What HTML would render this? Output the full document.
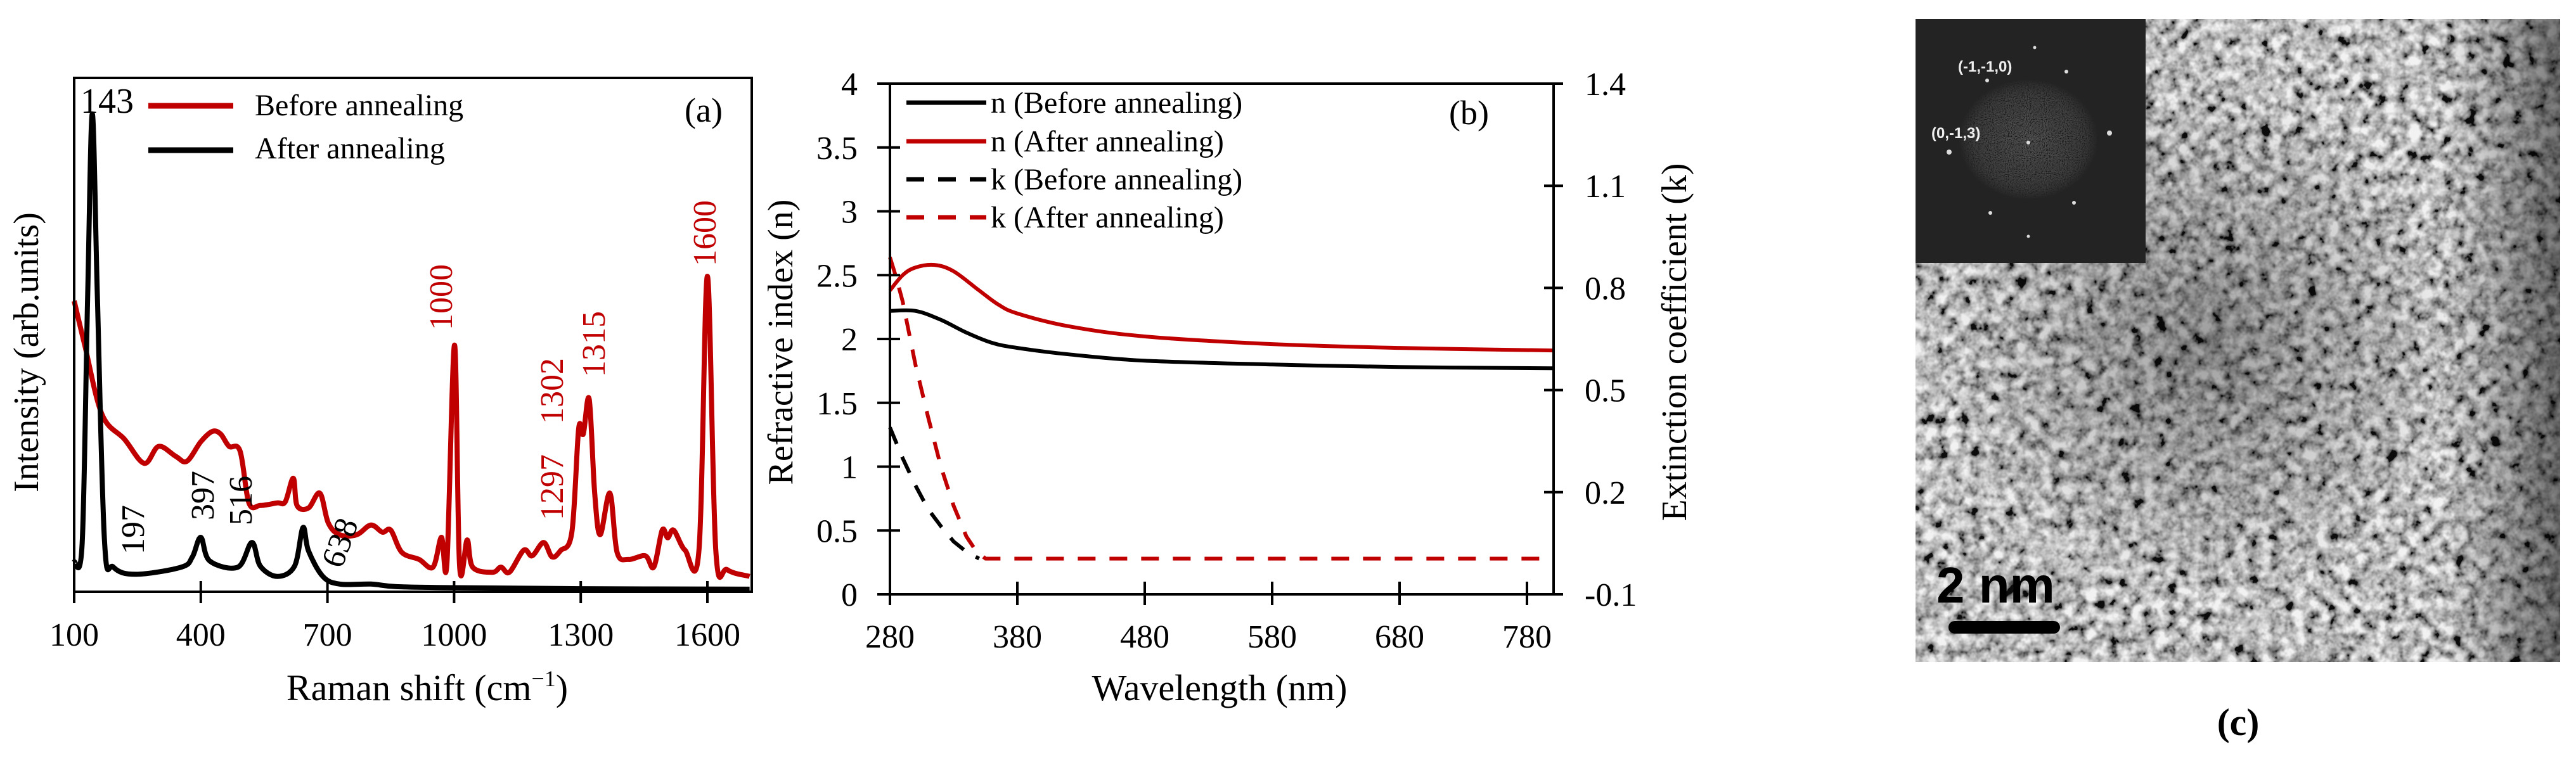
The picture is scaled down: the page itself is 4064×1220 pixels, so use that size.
<!DOCTYPE html>
<html><head><meta charset="utf-8">
<style>
html,body{margin:0;padding:0;background:#fff;}
svg{display:block;font-family:"Liberation Serif",serif;}
</style></head>
<body>
<svg id="fig" width="4064" height="1220" viewBox="0 0 4064 1220" xmlns="http://www.w3.org/2000/svg">
<defs>
  <filter id="tem" x="0" y="0" width="100%" height="100%">
    <feTurbulence type="fractalNoise" baseFrequency="0.055" numOctaves="3" seed="7" result="n"/>
    <feColorMatrix in="n" type="matrix" values="0.33 0.33 0.33 0 0  0.33 0.33 0.33 0 0  0.33 0.33 0.33 0 0  0 0 0 0 1" result="g"/>
    <feComponentTransfer in="g"><feFuncR type="linear" slope="3.6" intercept="-1.25"/><feFuncG type="linear" slope="3.6" intercept="-1.25"/><feFuncB type="linear" slope="3.6" intercept="-1.25"/></feComponentTransfer>
  </filter>
  <filter id="fft" x="0" y="0" width="100%" height="100%">
    <feTurbulence type="fractalNoise" baseFrequency="0.6" numOctaves="1" seed="3" result="n"/>
    <feColorMatrix in="n" type="matrix" values="0.33 0.33 0.33 0 0  0.33 0.33 0.33 0 0  0.33 0.33 0.33 0 0  0 0 0 0 1" result="g"/>
    <feComponentTransfer in="g"><feFuncR type="linear" slope="2.5" intercept="-1.0"/><feFuncG type="linear" slope="2.5" intercept="-1.0"/><feFuncB type="linear" slope="2.5" intercept="-1.0"/></feComponentTransfer>
  </filter>
  <radialGradient id="fftg" cx="0.5" cy="0.5" r="0.5"><stop offset="0" stop-color="#fff"/><stop offset="0.7" stop-color="#fff" stop-opacity="0.6"/><stop offset="1" stop-color="#000"/></radialGradient>
  <mask id="fftmask"><rect x="3022" y="30" width="363" height="385" fill="#000"/><ellipse cx="3200" cy="220" rx="110" ry="95" fill="url(#fftg)"/></mask>
  <radialGradient id="darkc" cx="0.45" cy="0.5" r="0.4"><stop offset="0" stop-color="#000" stop-opacity="0.35"/><stop offset="1" stop-color="#000" stop-opacity="0"/></radialGradient>
  <linearGradient id="darkr" x1="0" x2="1" y1="0" y2="0"><stop offset="0.82" stop-color="#000" stop-opacity="0"/><stop offset="1" stop-color="#000" stop-opacity="0.5"/></linearGradient>
</defs>

<!-- Panel A -->
<g id="panelA">
  <g id="aCurves"></g>
  <rect x="117" y="123" width="1069" height="811" fill="none" stroke="#000" stroke-width="4"/>
  <g id="aTicks"></g>
  <text x="674" y="1105" font-size="58" text-anchor="middle">Raman shift (cm<tspan font-size="36" dy="-22">−1</tspan><tspan dy="22">)</tspan></text>
  <text transform="translate(60,556) rotate(-90)" font-size="56" text-anchor="middle">Intensity (arb.units)</text>
  <line x1="234" y1="167" x2="368" y2="167" stroke="#c00000" stroke-width="9"/>
  <text x="402" y="182" font-size="48">Before annealing</text>
  <line x1="234" y1="237" x2="368" y2="237" stroke="#000" stroke-width="9"/>
  <text x="402" y="250" font-size="48">After annealing</text>
  <text x="1080" y="192" font-size="54">(a)</text>
  <text x="127" y="178" font-size="56">143</text>
  <g font-size="52" fill="#000">
    <text transform="translate(227,875) rotate(-90)">197</text>
    <text transform="translate(337,821) rotate(-90)">397</text>
    <text transform="translate(397,829) rotate(-90)">516</text>
    <text transform="translate(539,899) rotate(-70)">638</text>
  </g>
  <g font-size="52" fill="#c00000">
    <text transform="translate(713,521) rotate(-90)">1000</text>
    <text transform="translate(888,821) rotate(-90)">1297</text>
    <text transform="translate(888,669) rotate(-90)">1302</text>
    <text transform="translate(954,595) rotate(-90)">1315</text>
    <text transform="translate(1129,420) rotate(-90)">1600</text>
  </g>
</g>

<!-- Panel B -->
<g id="panelB">
  <g id="bCurves"></g>
  <rect x="1404" y="132" width="1047" height="806" fill="none" stroke="#000" stroke-width="4"/>
  <g id="bTicks"></g>
  <text x="1924" y="1105" font-size="58" text-anchor="middle">Wavelength (nm)</text>
  <text transform="translate(1250,540) rotate(-90)" font-size="56" text-anchor="middle">Refractive index (n)</text>
  <text transform="translate(2660,540) rotate(-90)" font-size="56" text-anchor="middle">Extinction coefficient (k)</text>
  <text x="2286" y="196" font-size="54">(b)</text>
  <g id="bLegend" font-size="48"></g>
</g>

<!-- Panel C -->
<g id="panelC">
  <rect x="3022" y="30" width="1017" height="1015" fill="#7a7a7a"/>
  <rect x="3022" y="30" width="1017" height="1015" filter="url(#tem)" opacity="0.9"/>
  <rect x="3022" y="30" width="1017" height="1015" fill="url(#darkc)"/>
  <rect x="3022" y="30" width="1017" height="1015" fill="url(#darkr)"/>
  <rect x="3022" y="30" width="363" height="385" fill="#232323"/>
  <rect x="3022" y="30" width="363" height="385" filter="url(#fft)" opacity="0.35" mask="url(#fftmask)"/>
  <g fill="#ddd">
    <circle cx="3328" cy="210" r="4"/><circle cx="3075" cy="240" r="4"/><circle cx="3260" cy="113" r="3"/>
    <circle cx="3135" cy="127" r="3"/><circle cx="3140" cy="336" r="3"/><circle cx="3272" cy="320" r="3"/>
    <circle cx="3200" cy="373" r="2.5"/><circle cx="3210" cy="75" r="2.5"/><circle cx="3200" cy="225" r="3"/>
  </g>
  <text x="3089" y="113" font-family="Liberation Sans, sans-serif" font-size="24" font-weight="bold" fill="#eee">(-1,-1,0)</text>
  <text x="3047" y="218" font-family="Liberation Sans, sans-serif" font-size="24" font-weight="bold" fill="#eee">(0,-1,3)</text>
  <text x="3055" y="951" font-family="Liberation Sans, sans-serif" font-size="80" font-weight="bold" fill="#000">2 nm</text>
  <line x1="3084" y1="990" x2="3240" y2="990" stroke="#000" stroke-width="20" stroke-linecap="round"/>
  <text x="3531" y="1160" font-size="60" font-weight="bold" text-anchor="middle">(c)</text>
</g>
</svg>
<script>
// ---------- Panel A data ----------
const ramanBeforeX = [100,125,166,219,266,300,340,367,400,427,447,467,493,514,541,581,600,619,628,655,682,702,729,769,803,830,850,876,917,950,970,983,1001,1013,1031,1044,1091,1111,1131,1165,1185,1212,1232,1252,1279,1295,1306,1320,1333,1346,1369,1386,1413,1453,1473,1493,1506,1520,1547,1580,1600,1620,1647,1700];
const ramanBeforeY = [0.566,0.48,0.345,0.297,0.25,0.283,0.264,0.254,0.292,0.312,0.307,0.283,0.274,0.173,0.168,0.173,0.175,0.221,0.168,0.163,0.192,0.134,0.111,0.111,0.13,0.116,0.12,0.077,0.063,0.048,0.106,0.056,0.48,0.05,0.101,0.048,0.038,0.048,0.038,0.081,0.07,0.096,0.068,0.08,0.116,0.317,0.307,0.375,0.192,0.111,0.192,0.077,0.063,0.07,0.048,0.12,0.105,0.12,0.081,0.081,0.614,0.08,0.043,0.03];
const ramanAfterX = [100,119,132,143,155,172,193,246,354,380,400,421,488,521,541,581,622,642,655,689,729,803,863,1000,1300,1700];
const ramanAfterY = [0.058,0.096,0.576,0.93,0.576,0.096,0.048,0.034,0.048,0.068,0.106,0.06,0.048,0.096,0.05,0.03,0.05,0.125,0.08,0.03,0.015,0.015,0.01,0.008,0.006,0.005];
const ramanTicks = [100,400,700,1000,1300,1600];

// ---------- Panel B data ----------
const wlTicks = [280,380,480,580,680,780];
const nTicks = [0,0.5,1,1.5,2,2.5,3,3.5,4];
const kTicks = [-0.1,0.2,0.5,0.8,1.1,1.4];
const nBeforeX = [280,300,320,340,360,380,420,480,580,680,800];
const nBeforeY = [2.22,2.22,2.15,2.05,1.97,1.93,1.88,1.83,1.8,1.78,1.77];
const nAfterX = [280,290,300,315,330,350,365,380,420,480,580,680,800];
const nAfterY = [2.38,2.5,2.56,2.58,2.53,2.38,2.27,2.2,2.1,2.02,1.96,1.93,1.91];
const kBeforeX = [280,290,300,310,320,330,340,350];
const kBeforeY = [0.39,0.3,0.22,0.15,0.1,0.055,0.025,0.005];
const kAfterX = [280,285,290,300,310,320,330,340,348,355,790];
const kAfterY = [0.89,0.83,0.76,0.575,0.42,0.275,0.16,0.07,0.025,0.005,0.005];

const NS = "http://www.w3.org/2000/svg";
function mk(tag, attrs, parent){const e=document.createElementNS(NS,tag);for(const k in attrs)e.setAttribute(k,attrs[k]);parent.appendChild(e);return e;}
function smooth(pts){
  let d="M"+pts[0][0].toFixed(1)+","+pts[0][1].toFixed(1);
  for(let i=0;i<pts.length-1;i++){
    const p0=pts[Math.max(0,i-1)],p1=pts[i],p2=pts[i+1],p3=pts[Math.min(pts.length-1,i+2)];
    const c1x=p1[0]+(p2[0]-p0[0])/6,c1y=p1[1]+(p2[1]-p0[1])/6;
    const c2x=p2[0]-(p3[0]-p1[0])/6,c2y=p2[1]-(p3[1]-p1[1])/6;
    d+=" C"+c1x.toFixed(1)+","+c1y.toFixed(1)+" "+c2x.toFixed(1)+","+c2y.toFixed(1)+" "+p2[0].toFixed(1)+","+p2[1].toFixed(1);
  }
  return d;
}
function poly(pts){return "M"+pts.map(p=>p[0].toFixed(1)+","+p[1].toFixed(1)).join(" L");}

// Panel A axes
const ax = v => 117 + (v-100)*0.666;
const ay = v => 934 - v*811;
const aC = document.getElementById("aCurves");
let p = mk("path",{d:smooth(ramanBeforeX.map((x,i)=>[ax(x),ay(ramanBeforeY[i])])),fill:"none",stroke:"#c00000","stroke-width":8,"stroke-linejoin":"round"},aC);


p = mk("path",{d:smooth(ramanAfterX.map((x,i)=>[ax(x),ay(ramanAfterY[i])])),fill:"none",stroke:"#000","stroke-width":8,"stroke-linejoin":"round"},aC);


const aT = document.getElementById("aTicks");
ramanTicks.forEach(t=>{
  const l = mk("line",{x1:ax(t),x2:ax(t),y1:917,y2:952,stroke:"#000","stroke-width":4},aT);
  
  
  const tx = mk("text",{x:ax(t),y:1019,"font-size":52,"text-anchor":"middle"},aT);
  tx.textContent=t;
  
  
});

// Panel B axes
const bx = v => 1404 + (v-280)*(1005/500);
const by = v => 938 - v*(806/4);
const bk = v => 938 - (v+0.1)*(806/1.5);
const bC = document.getElementById("bCurves");
function bLine(xs,ys,yf,color,dash,name,lin){
  const pts = xs.map((x,i)=>[bx(x),yf(ys[i])]);
  const e = mk("path",{d:lin?poly(pts):smooth(pts),fill:"none",stroke:color,"stroke-width":6,"stroke-linejoin":"round"},bC);
  if(dash) e.setAttribute("stroke-dasharray",dash);
  
  
}
bLine(kBeforeX,kBeforeY,bk,"#000","28,22","k-before-annealing-line",true);
bLine(kAfterX,kAfterY,bk,"#c00000","28,22","k-after-annealing-line",true);
bLine(nBeforeX,nBeforeY,by,"#000",null,"n-before-annealing-line",false);
bLine(nAfterX,nAfterY,by,"#c00000",null,"n-after-annealing-line",false);
const bT = document.getElementById("bTicks");
wlTicks.forEach(t=>{
  const l = mk("line",{x1:bx(t),x2:bx(t),y1:918,y2:955,stroke:"#000","stroke-width":4},bT);
  
  
  const tx = mk("text",{x:bx(t),y:1022,"font-size":52,"text-anchor":"middle"},bT);
  tx.textContent=t;
  
  
});
nTicks.forEach(t=>{
  const l = mk("line",{x1:1384,x2:1420,y1:by(t),y2:by(t),stroke:"#000","stroke-width":4},bT);
  
  
  const tx = mk("text",{x:1353,y:by(t)+18,"font-size":52,"text-anchor":"end"},bT);
  tx.textContent=t;
  
  
});
kTicks.forEach(t=>{
  const l = mk("line",{x1:2436,x2:2466,y1:bk(t),y2:bk(t),stroke:"#000","stroke-width":4},bT);
  
  
  const tx = mk("text",{x:2500,y:bk(t)+18,"font-size":52},bT);
  tx.textContent=t;
  
  
});
const legNames=["n (Before annealing)","n (After annealing)","k (Before annealing)","k (After annealing)"];
const legColors=["#000","#c00000","#000","#c00000"];
const legRows=[162,223,283,343];
const bL=document.getElementById("bLegend");
legNames.forEach((s,i)=>{
  const l = mk("line",{x1:1430,x2:1556,y1:legRows[i],y2:legRows[i],stroke:legColors[i],"stroke-width":7},bL);
  if(i>=2) l.setAttribute("stroke-dasharray","28,22");
  
  
  const t = mk("text",{x:1563,y:legRows[i]+16},bL);
  t.textContent=s;
  
  
});
</script>
</body></html>
